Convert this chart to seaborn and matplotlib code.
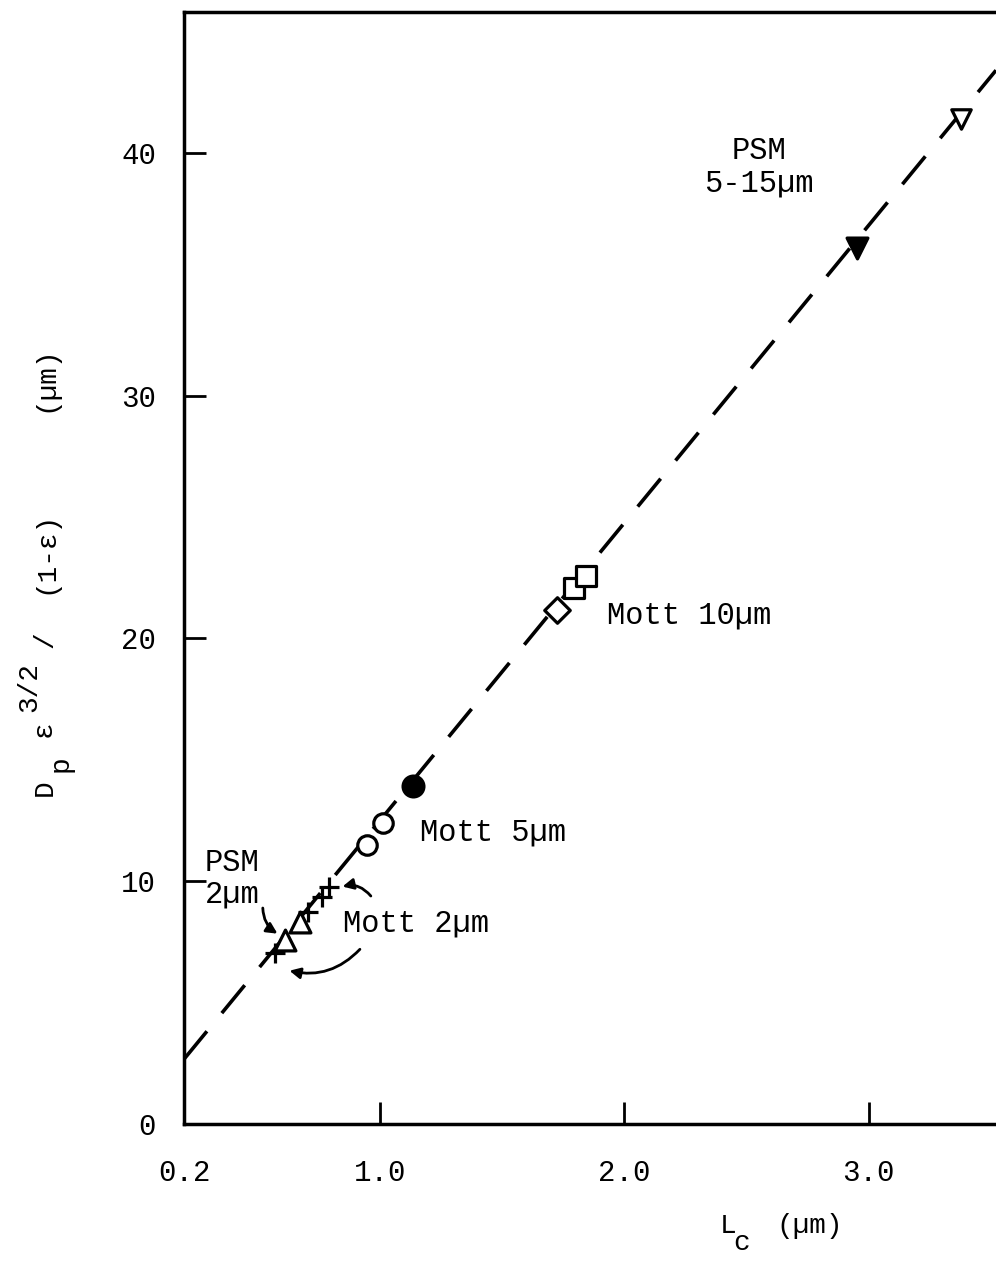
import numpy as np
import pandas as pd
import matplotlib
matplotlib.use("Agg")
import matplotlib.pyplot as plt
import seaborn as sns

# Points: L_c (um) vs Dp*eps^1.5/(1-eps) (um)
mott2_x = [0.571, 0.706, 0.763, 0.792]
mott2_y = [7.04, 8.72, 9.34, 9.75]
psm2_x = [0.612, 0.673]
psm2_y = [7.57, 8.31]
mott5_open_x = [0.947, 1.012]
mott5_open_y = [11.48, 12.39]
mott5_fill_x = [1.135]
mott5_fill_y = [13.91]
mott10_diam_x = [1.727]
mott10_diam_y = [21.15]
mott10_sq_x = [1.796, 1.845]
mott10_sq_y = [22.06, 22.59]
psm_fill_x = [2.951]
psm_fill_y = [36.09]
psm_open_x = [3.376]
psm_open_y = [41.4]

# dashed fit line (end points)
line_x = [0.2, 3.52]
line_y = [2.67, 43.4]

x_ticks = [0.2, 1.0, 2.0, 3.0]
x_tick_labels = ["0.2", "1.0", "2.0", "3.0"]
y_ticks = [0, 10, 20, 30, 40]

sns.set_theme(style="ticks")
plt.rcParams['font.family'] = ['Liberation Mono', 'DejaVu Sans']
plt.rcParams['text.color'] = 'black'
plt.rcParams['axes.labelcolor'] = 'black'

fig = plt.figure(figsize=(9.96, 12.61), dpi=100)
ax = fig.add_axes([184 / 996, 137 / 1261, 812 / 996, 1112 / 1261])

sns.lineplot(x=line_x, y=line_y, ax=ax, color='black', linewidth=2.6,
             linestyle=(0, (10, 6.5)), zorder=1)

groups = [
    (mott2_x, mott2_y, '+', 'black', 15),
    (psm2_x, psm2_y, '^', 'white', 15),
    (mott5_open_x, mott5_open_y, 'o', 'white', 14),
    (mott5_fill_x, mott5_fill_y, 'o', 'black', 15),
    (mott10_diam_x, mott10_diam_y, 'D', 'white', 13),
    (mott10_sq_x, mott10_sq_y, 's', 'white', 14),
    (psm_fill_x, psm_fill_y, 'v', 'black', 15),
    (psm_open_x, psm_open_y, 'v', 'white', 14),
]
for gx, gy, mk, fc, ms in groups:
    sns.scatterplot(x=gx, y=gy, ax=ax, marker=mk, s=ms ** 2, color='black',
                    facecolor=fc, edgecolor='black', linewidth=2.3, zorder=3)

# labels on the plot
fs = 22
ax.text(2.55, 39.4, "PSM\n5-15µm", ha='center', va='center', fontsize=fs,
        linespacing=1.1)
ax.text(1.93, 20.95, "Mott 10µm", ha='left', va='center', fontsize=fs)
ax.text(1.163, 12.0, "Mott 5µm", ha='left', va='center', fontsize=fs)
ax.text(0.286, 10.1, "PSM\n2µm", ha='left', va='center', fontsize=fs,
        linespacing=1.1)
ax.text(0.849, 8.27, "Mott 2µm", ha='left', va='center', fontsize=fs)

arrow = dict(arrowstyle='-|>', color='black', lw=2, mutation_scale=16)
ax.annotate("", xy=(0.592, 7.78), xytext=(0.522, 9.01),
            arrowprops=dict(connectionstyle="arc3,rad=0.3", **arrow))
ax.annotate("", xy=(0.837, 9.75), xytext=(0.971, 9.30),
            arrowprops=dict(connectionstyle="arc3,rad=0.35", **arrow))
ax.annotate("", xy=(0.620, 6.34), xytext=(0.927, 7.28),
            arrowprops=dict(connectionstyle="arc3,rad=-0.3", **arrow))

ax.set_xlim(0.2, 3.52)
ax.set_ylim(0, 45.8)
ax.set_xticks(x_ticks)
ax.set_xticklabels(x_tick_labels)
ax.set_yticks(y_ticks)
ax.tick_params(direction='in', length=16, width=2, labelsize=21,
               colors='black')
ax.tick_params(axis='x', pad=25)
ax.tick_params(axis='y', pad=20)

for side in ['left', 'bottom', 'top']:
    ax.spines[side].set_linewidth(2.5)
    ax.spines[side].set_color('black')
ax.spines['right'].set_visible(False)


def ptext(x, y, s, **kw):
    # place text at pixel position (from the top-left of the figure)
    fig.text(x / 996, 1 - y / 1261, s, **kw)


# axis titles, written piece by piece so sub/superscripts stay full size
lab = dict(fontsize=20)
ptext(728, 1233, "L", ha='center', va='baseline', **lab)
ptext(742, 1250, "c", ha='center', va='baseline', **lab)
ptext(810, 1233, "(µm)", ha='center', va='baseline', **lab)

rot = dict(fontsize=20, rotation=90, ha='center', va='bottom')
ptext(45, 796, "D", **rot)
ptext(61, 772, "p", **rot)
ptext(44, 737, "ε", **rot)
ptext(29, 712, "3/2", **rot)
ptext(45, 648, "/", **rot)
ptext(45, 594, "(1-ε)", **rot)
ptext(45, 412, "(µm)", **rot)

fig.savefig("out.png", dpi=100)
